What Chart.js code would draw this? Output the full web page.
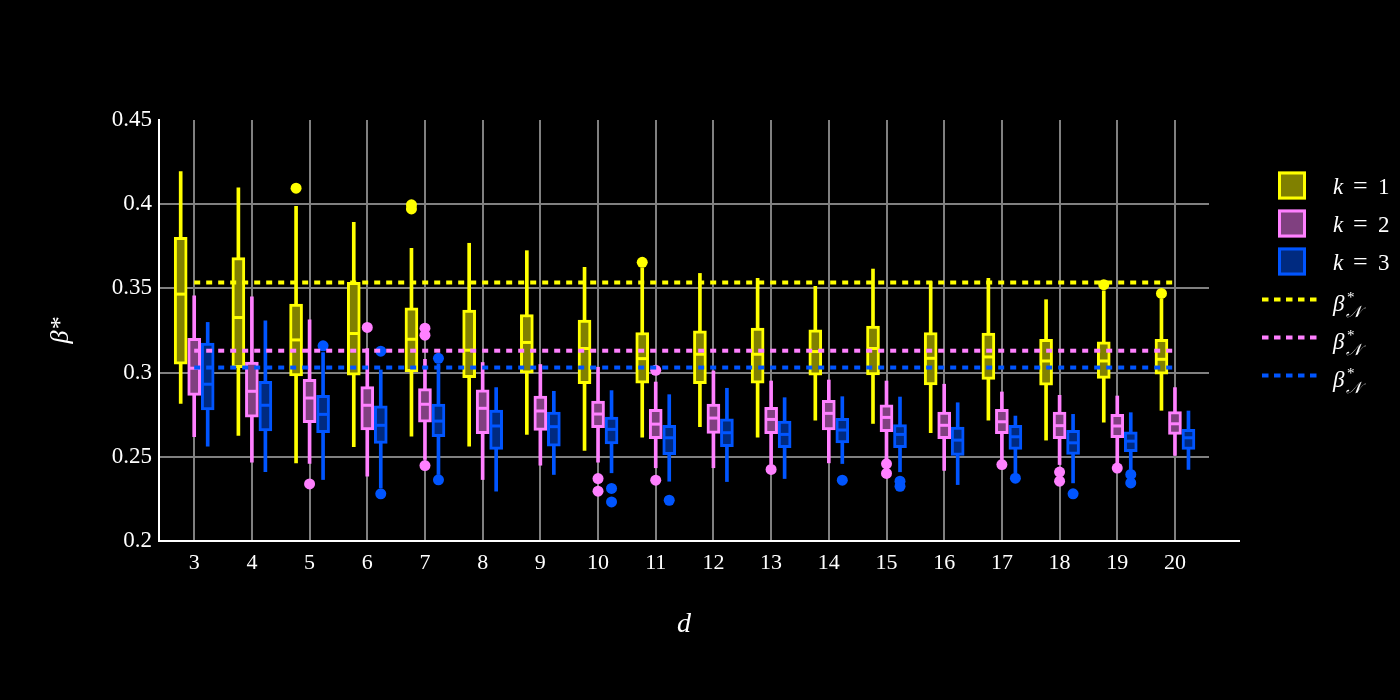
<!DOCTYPE html>
<html>
<head>
<meta charset="utf-8">
<script src="https://cdn.jsdelivr.net/npm/chart.js@4.4.1/dist/chart.umd.min.js"></script>
<style>
html,body{margin:0;padding:0;background:#000;}
#c{display:block;}
</style>
</head>
<body>
<canvas id="c" width="1400" height="700"></canvas>
<script>
// ---------------- data ----------------
const dims = [3,4,5,6,7,8,9,10,11,12,13,14,15,16,17,18,19,20];
const yTicks = [0.2,0.25,0.3,0.35,0.4,0.45];
const yTickLabels = ['0.2','0.25','0.3','0.35','0.4','0.45'];
const seriesLabels = ['k = 1','k = 2','k = 3'];

// k = 1
const k1Min = [0.2817,0.2627,0.2464,0.2560,0.2623,0.2563,0.2633,0.2538,0.2617,0.2679,0.2617,0.2718,0.2698,0.2643,0.2718,0.2599,0.2706,0.2776];
const k1Q1  = [0.3050,0.3030,0.2980,0.2984,0.3006,0.2970,0.2996,0.2935,0.2937,0.2935,0.2937,0.2984,0.2986,0.2927,0.2960,0.2925,0.2966,0.2990];
const k1Med = [0.3466,0.3327,0.3194,0.3232,0.3198,0.3133,0.3179,0.3143,0.3083,0.3109,0.3109,0.3125,0.3143,0.3085,0.3093,0.3069,0.3069,0.3079];
const k1Q3  = [0.3804,0.3683,0.3407,0.3536,0.3385,0.3371,0.3345,0.3312,0.3238,0.3248,0.3264,0.3254,0.3276,0.3238,0.3234,0.3198,0.3183,0.3198];
const k1Max = [0.4194,0.4097,0.3988,0.3893,0.3738,0.3768,0.3724,0.3625,0.3620,0.3589,0.3560,0.3512,0.3615,0.3540,0.3560,0.3433,0.3486,0.3437];
const k1Outliers = [[5,0.4095],[7,0.3996],[7,0.3972],[11,0.3655],[19,0.3522],[20,0.3470]];

// k = 2
const k2Min = [0.2619,0.2468,0.2460,0.2385,0.2484,0.2365,0.2450,0.2468,0.2435,0.2435,0.2454,0.2464,0.2484,0.2419,0.2484,0.2454,0.2464,0.2508];
const k2Q1  = [0.2865,0.2736,0.2702,0.2659,0.2706,0.2637,0.2657,0.2673,0.2607,0.2639,0.2637,0.2659,0.2649,0.2607,0.2637,0.2607,0.2613,0.2633];
const k2Med = [0.3026,0.2889,0.2849,0.2806,0.2812,0.2788,0.2772,0.2754,0.2694,0.2730,0.2722,0.2758,0.2734,0.2687,0.2708,0.2685,0.2683,0.2696];
const k2Q3  = [0.3204,0.3063,0.2960,0.2917,0.2905,0.2897,0.2861,0.2831,0.2782,0.2813,0.2794,0.2835,0.2808,0.2766,0.2782,0.2766,0.2752,0.2768];
const k2Max = [0.3456,0.3450,0.3313,0.3143,0.3079,0.3060,0.3048,0.3032,0.2944,0.3010,0.2950,0.2956,0.2950,0.2931,0.2885,0.2865,0.2861,0.2911];
const k2Outliers = [[5,0.2339],[6,0.3268],[7,0.3264],[7,0.3222],[7,0.2448],[10,0.2371],[10,0.2296],[11,0.3014],[11,0.2361],[13,0.2425],[15,0.2458],[15,0.2401],[17,0.2454],[18,0.2409],[18,0.2355],[19,0.2433]];

// k = 3
const k3Min = [0.2563,0.2411,0.2365,0.2316,0.2395,0.2296,0.2395,0.2405,0.2355,0.2353,0.2371,0.2460,0.2411,0.2335,0.2405,0.2345,0.2425,0.2425];
const k3Q1  = [0.2778,0.2653,0.2643,0.2579,0.2619,0.2544,0.2563,0.2577,0.2512,0.2560,0.2554,0.2583,0.2554,0.2508,0.2544,0.2514,0.2530,0.2544];
const k3Med = [0.2931,0.2806,0.2752,0.2687,0.2712,0.2683,0.2679,0.2663,0.2613,0.2643,0.2633,0.2659,0.2633,0.2599,0.2619,0.2583,0.2593,0.2613];
const k3Q3  = [0.3175,0.2948,0.2865,0.2802,0.2813,0.2778,0.2766,0.2736,0.2687,0.2726,0.2712,0.2728,0.2692,0.2677,0.2687,0.2657,0.2649,0.2663];
const k3Max = [0.3298,0.3308,0.3119,0.3016,0.3050,0.2911,0.2889,0.2893,0.2869,0.2907,0.2851,0.2857,0.2855,0.2821,0.2742,0.2752,0.2762,0.2772];
const k3Outliers = [[5,0.3159],[6,0.3127],[6,0.2280],[7,0.3085],[7,0.2363],[10,0.2312],[10,0.2232],[11,0.2242],[14,0.2361],[15,0.2355],[15,0.2325],[17,0.2373],[18,0.2280],[19,0.2395],[19,0.2345]];

// reference levels beta*_N
const refLevels = [0.3535, 0.3130, 0.3030];

// ---------------- styling ----------------
const lineColors = ['#ffff00', '#ff80ff', '#0055ff'];
const fillColors = ['#808000', '#804080', '#002a80'];
const groupOffset = 0.234;
const serif = "'Liberation Serif', 'DejaVu Serif', serif";

const groups = [
  {min:k1Min, q1:k1Q1, med:k1Med, q3:k1Q3, max:k1Max, out:k1Outliers},
  {min:k2Min, q1:k2Q1, med:k2Med, q3:k2Q3, max:k2Max, out:k2Outliers},
  {min:k3Min, q1:k3Q1, med:k3Med, q3:k3Q3, max:k3Max, out:k3Outliers}
];

const datasets = [];
groups.forEach((g, gi) => {
  const off = (gi - 1) * groupOffset;
  const col = lineColors[gi];
  datasets.push({
    type: 'bar', label: seriesLabels[gi] + ' whisker',
    data: dims.map((d, i) => ({x: d + off, y: [g.min[i], g.max[i]]})),
    backgroundColor: col, borderWidth: 0, barThickness: 3, grouped: false, order: 50
  });
  datasets.push({
    type: 'bar', label: seriesLabels[gi],
    data: dims.map((d, i) => ({x: d + off, y: [g.q1[i], g.q3[i]]})),
    backgroundColor: fillColors[gi], borderColor: col, borderWidth: 3, borderSkipped: false,
    barThickness: 13, grouped: false, order: 40
  });
  datasets.push({
    type: 'scatter', label: seriesLabels[gi] + ' median',
    data: dims.map((d, i) => ({x: d + off, y: g.med[i]})),
    pointStyle: 'line', pointRadius: 6, borderColor: col, pointBorderColor: col, pointBorderWidth: 3, order: 30
  });
  datasets.push({
    type: 'scatter', label: seriesLabels[gi] + ' outliers',
    data: g.out.map(([d, v]) => ({x: d + off, y: v})),
    pointStyle: 'circle', pointRadius: 5.5, backgroundColor: col, pointBackgroundColor: col, borderWidth: 0, pointBorderWidth: 0, order: 20
  });
  datasets.push({
    type: 'line', label: 'beta ' + gi,
    data: [{x: dims[0], y: refLevels[gi]}, {x: dims[dims.length - 1], y: refLevels[gi]}],
    borderColor: col, borderWidth: 4, borderDash: [6, 6], pointRadius: 0, fill: false, order: 10
  });
});

// ---------------- plugins ----------------
const extras = {
  id: 'extras',
  afterDraw(chart) {
    const ctx = chart.ctx;
    const ca = chart.chartArea;
    ctx.save();
    // extended x-axis line
    ctx.strokeStyle = '#ffffff';
    ctx.lineWidth = 2;
    ctx.beginPath();
    const yb = Math.round(ca.bottom);
    ctx.moveTo(ca.right - 2, yb);
    ctx.lineTo(ca.right + 31, yb);
    ctx.stroke();

    // legend
    const lx = ca.right + 69;
    const tx = ca.right + 124;
    let cy = ca.top + 65.5;
    for (let i = 0; i < 3; i++) {
      ctx.fillStyle = fillColors[i];
      ctx.fillRect(lx, cy - 14, 28, 28);
      ctx.strokeStyle = lineColors[i];
      ctx.lineWidth = 3;
      ctx.strokeRect(lx + 1.5, cy - 12.5, 25, 25);
      ctx.fillStyle = '#ffffff';
      ctx.textBaseline = 'alphabetic';
      ctx.font = 'italic 23px ' + serif;
      ctx.fillText('k', tx, cy + 8);
      ctx.font = '26px ' + serif;
      ctx.fillText('=', tx + 20, cy + 8);
      ctx.font = '23px ' + serif;
      ctx.fillText(String(i + 1), tx + 45, cy + 8);
      cy += 38;
    }
    for (let i = 0; i < 3; i++) {
      ctx.strokeStyle = lineColors[i];
      ctx.lineWidth = 4;
      ctx.setLineDash([6.5, 5.5]);
      ctx.beginPath();
      ctx.moveTo(ca.right + 53, cy);
      ctx.lineTo(ca.right + 108, cy);
      ctx.stroke();
      ctx.setLineDash([]);
      ctx.fillStyle = '#ffffff';
      ctx.font = 'italic 23px ' + serif;
      ctx.fillText('β', tx, cy + 11);
      ctx.font = '15px ' + serif;
      ctx.fillText('*', tx + 14, cy + 2);
      ctx.font = 'italic 16px ' + serif;
      ctx.fillText('𝒩', tx + 13, cy + 17);
      cy += 38;
    }
    ctx.restore();
  }
};

new Chart(document.getElementById('c'), {
  type: 'bar',
  data: {datasets},
  options: {
    responsive: false,
    animation: false,
    events: [],
    layout: {padding: {left: 0, right: 191, top: 120, bottom: 39}},
    plugins: {legend: {display: false}, tooltip: {enabled: false}},
    scales: {
      x: {
        type: 'linear', min: 2.39, max: 20.59, offset: false,
        afterFit: s => { s.height = 120; },
        afterBuildTicks: s => { s.ticks = dims.map(v => ({value: v})); },
        grid: {color: '#808080', lineWidth: 2, drawTicks: false, offset: false},
        border: {color: '#ffffff', width: 2},
        ticks: {color: '#ffffff', font: {family: serif, size: 22}, padding: 9, maxRotation: 0, autoSkip: false,
                callback: v => String(v)},
        title: {display: true, text: 'd', color: '#ffffff',
                font: {family: serif, size: 28, style: 'italic'}, padding: {top: 0, bottom: 20}}
      },
      y: {
        type: 'linear', min: 0.2, max: 0.45,
        afterFit: s => { s.width = 159; },
        afterBuildTicks: s => { s.ticks = yTicks.map(v => ({value: v})); },
        grid: {color: c => (c.tick && (c.tick.value === 0.45 || c.tick.value === 0.2)) ? 'rgba(0,0,0,0)' : '#808080',
               lineWidth: 2, drawTicks: false},
        border: {color: '#ffffff', width: 2},
        ticks: {color: '#ffffff', font: {family: serif, size: 23}, padding: 7,
                callback: (v, i) => yTickLabels[i]},
        title: {display: true, text: 'β*', color: '#ffffff',
                font: {family: serif, size: 26, style: 'italic'}, padding: {top: 46, bottom: 0}}
      }
    }
  },
  plugins: [extras]
});
</script>
</body>
</html>
